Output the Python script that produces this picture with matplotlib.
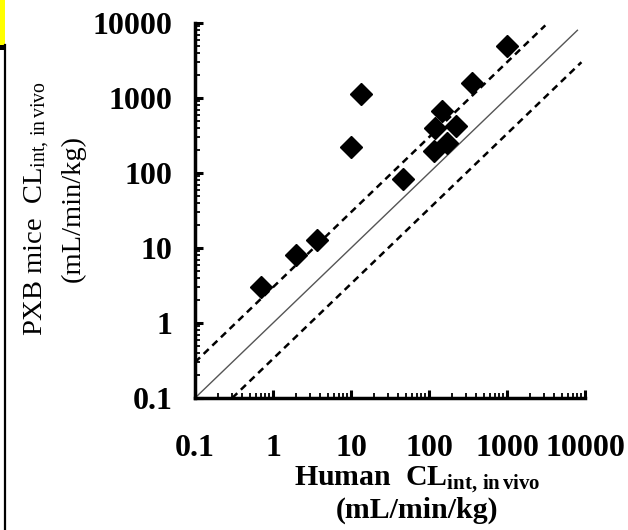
import matplotlib
matplotlib.use("Agg")
import matplotlib.pyplot as plt
import numpy as np
from matplotlib.patches import Rectangle
from matplotlib.lines import Line2D

plt.rcParams['font.family'] = 'Liberation Serif'
plt.rcParams['mathtext.fontset'] = 'custom'
plt.rcParams['mathtext.rm'] = 'Liberation Serif'
plt.rcParams['mathtext.it'] = 'Liberation Serif:italic'
plt.rcParams['mathtext.bf'] = 'Liberation Serif:bold'

# human vs PXB mice CLint, in vivo (mL/min/kg)
human = [0.70, 2.0, 3.7, 9.9, 13.3, 47, 116, 119, 146, 169, 222, 359, 990]
pxb = [3.0, 8.1, 12.8, 224, 1120, 82, 198, 394, 671, 254, 428, 1570, 4930]

ticks = [0.1, 1, 10, 100, 1000, 10000]
tick_labels = ['0.1', '1', '10', '100', '1000', '10000']

fig = plt.figure(figsize=(6.28, 5.30), dpi=100)
ax = fig.add_axes([0.3105, 0.249, 0.621, 0.7076])

# unity line and 3-fold lines
line_x = np.array([0.1, 8000])
ax.plot(line_x, line_x, color='#555555', lw=1.0)
ax.plot([0.1, 3100], [0.3, 9300], color='black', lw=1.8, ls=(0, (2.8, 2)))
ax.plot([0.3, 9000], [0.1, 3000], color='black', lw=1.8, ls=(0, (2.8, 2)))

ax.plot(human, pxb, 'D', color='black', markersize=11, zorder=5)

ax.set_xscale('log')
ax.set_yscale('log')
ax.set_xlim(0.1, 10000)
ax.set_ylim(0.1, 10000)
ax.set_xticks(ticks)
ax.set_xticklabels(tick_labels)
ax.set_yticks(ticks)
ax.set_yticklabels(tick_labels)
ax.minorticks_on()
for lab in ax.get_xticklabels() + ax.get_yticklabels():
    lab.set_fontweight('bold')
    lab.set_fontsize(23)
ax.tick_params(which='major', direction='in', length=6, width=2.2)
ax.tick_params(which='minor', direction='in', length=3.5, width=1.3)
ax.tick_params(axis='x', which='major', pad=26)
ax.tick_params(axis='y', which='major', pad=16)
ax.xaxis.set_minor_formatter(plt.NullFormatter())
ax.yaxis.set_minor_formatter(plt.NullFormatter())

for s in ['top', 'right']:
    ax.spines[s].set_visible(False)
for s in ['left', 'bottom']:
    ax.spines[s].set_linewidth(2.5)

ax.set_xlabel('Human  CL$_{\\mathbf{int,\\,in\\,vivo}}$\n(mL/min/kg)',
              fontsize=21.5, fontweight='bold', linespacing=1.08, labelpad=1)
ax.xaxis.label.set_x(0.57)
ax.set_ylabel('PXB mice  CL$_{\\mathrm{int,\\,in\\,vivo}}$\n(mL/min/kg)',
              fontsize=20.5, linespacing=1.45, labelpad=5)
ax.yaxis.label.set_y(0.505)

# screenshot remnants at the left edge
fig.add_artist(Rectangle((0, 1 - 45 / 530), 5 / 628, 45 / 530,
                         transform=fig.transFigure, facecolor='yellow', edgecolor='none'))
fig.add_artist(Rectangle((0, 1 - 50 / 530), 6 / 628, 5 / 530,
                         transform=fig.transFigure, facecolor='black', edgecolor='none'))
fig.add_artist(Line2D([5 / 628, 5 / 628], [0, 1 - 45 / 530],
                      transform=fig.transFigure, color='black', lw=1.6))

fig.savefig('out.png', dpi=100)
